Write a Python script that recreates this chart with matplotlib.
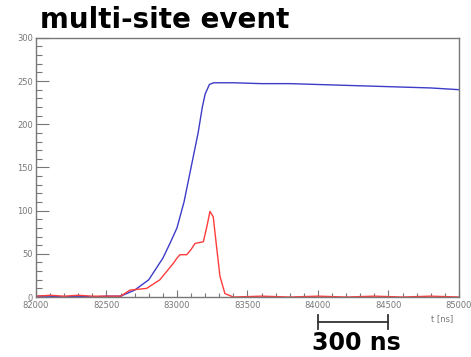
import numpy as np
import matplotlib.pyplot as plt
from matplotlib.ticker import MultipleLocator

# values
t_blue = [82000, 82100, 82200, 82300, 82400, 82500, 82600, 82700, 82800, 82900, 82950,
          83000, 83050, 83100, 83150, 83180, 83200, 83230, 83260, 83400, 83600, 83800,
          84000, 84200, 84400, 84600, 84800, 85000]
blue = [1, 1, 0, 1, 0, 1, 1, 8, 20, 45, 62,
        80, 110, 150, 190, 220, 235, 246, 248, 248, 247, 247,
        246, 245, 244, 243, 242, 240]

t_red = [82000, 82100, 82200, 82300, 82400, 82500, 82600, 82667, 82785, 82879, 82974,
         83000, 83021, 83069, 83100, 83128, 83187, 83210, 83234, 83257, 83281, 83305,
         83340, 83400, 83600, 83800, 84000, 84200, 84400, 84600, 84800, 85000]
red = [1, 2, 1, 2, 1, 1, 1, 8, 10, 20, 39,
       45, 49, 49, 55, 62, 64, 80, 99, 93, 58, 24,
       4, 0, 1, 0, 1, 0, 1, 0, 1, 0]

fig = plt.figure(figsize=(4.71, 3.57), dpi=100)
ax = fig.add_axes([0.0764, 0.168, 0.898, 0.726])

ax.plot(t_blue, blue, color='#3c3cc8', lw=1)
ax.plot(t_red, red, color='#ff3c3c', lw=1)

ax.set_xlim(82000, 85000)
ax.set_ylim(0, 300)
ax.xaxis.set_major_locator(MultipleLocator(500))
ax.xaxis.set_minor_locator(MultipleLocator(100))
ax.yaxis.set_major_locator(MultipleLocator(50))
ax.yaxis.set_minor_locator(MultipleLocator(10))
ax.tick_params(which='both', direction='in', colors='#777777', labelsize=6, width=0.8)
ax.tick_params(axis='x', which='major', length=5, pad=3)
ax.tick_params(axis='x', which='minor', length=3)
ax.tick_params(axis='y', which='major', length=9.5, pad=2)
ax.tick_params(axis='y', which='minor', length=4.5)
for s in ax.spines.values():
    s.set_color('#777777')
    s.set_linewidth(1)

ax.text(0.986, -0.066, 't [ns]', transform=ax.transAxes, ha='right', va='top',
        fontsize=6, color='#777777')

fig.text(0.085, 0.944, 'multi-site event', fontsize=20, fontweight='bold', ha='left', va='center')

# scale bar
ax.plot([84000, 84500], [-29, -29], color='#333333', lw=1.3, clip_on=False)
ax.plot([84000, 84000], [-21, -37], color='#333333', lw=1.3, clip_on=False)
ax.plot([84500, 84500], [-21, -37], color='#333333', lw=1.3, clip_on=False)
ax.text(84270, -53, '300 ns', fontsize=17, fontweight='bold', ha='center', va='center')

fig.savefig('out.png', dpi=100)
